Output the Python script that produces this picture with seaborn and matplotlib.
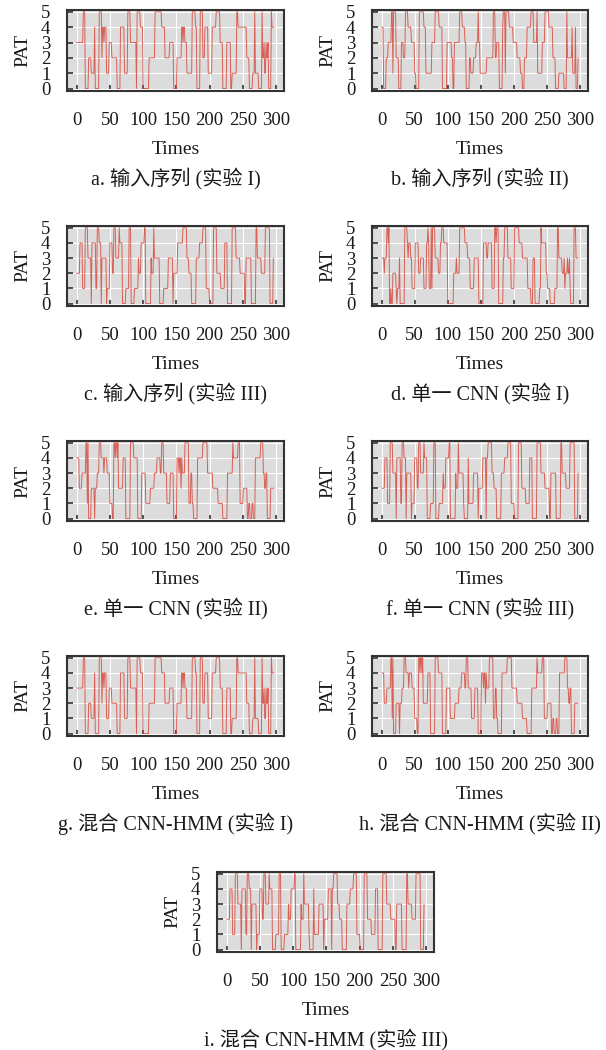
import numpy as np
import seaborn as sns
import matplotlib.pyplot as plt

# run-length encoded PAT sequences (level, number of time steps)
a_levels = [3, 5, 0, 2, 1, 4, 0, 5, 2, 4, 3, 4, 1, 3, 2, 0, 4, 1, 5, 3, 0, 5, 4, 0, 2, 5, 4, 2, 3, 0,
            2, 4, 3, 4, 3, 1, 5, 4, 0, 5, 2, 4, 1, 4, 5, 3, 0, 3, 0, 1, 5, 4, 2, 0, 1, 5, 1, 0, 5, 2,
            3, 1, 3, 2, 3, 0, 5, 4]
a_runs = [10, 3, 5, 4, 5, 1, 6, 4, 1, 2, 1, 3, 4, 4, 8, 5, 6, 5, 4, 9, 1, 5, 4, 9, 9, 10, 5, 7, 6, 5,
          7, 2, 1, 2, 3, 8, 5, 2, 5, 4, 3, 5, 6, 6, 6, 4, 6, 6, 2, 7, 2, 13, 4, 5, 3, 1, 5, 5, 1, 2,
          1, 2, 1, 2, 1, 4, 1, 4]

b_levels = [4, 0, 2, 3, 5, 1, 5, 2, 0, 3, 2, 5, 4, 3, 1, 0, 5, 4, 1, 3, 5, 4, 0, 3, 2, 0, 3, 5, 4, 3,
            0, 2, 1, 2, 3, 5, 3, 1, 2, 5, 2, 3, 0, 4, 5, 1, 5, 4, 3, 2, 1, 0, 2, 4, 5, 3, 5, 1, 3, 5,
            4, 2, 0, 1, 0, 5, 2, 4, 1, 4, 0, 2]
b_runs = [3, 4, 3, 5, 2, 1, 4, 4, 4, 3, 3, 4, 5, 5, 2, 5, 7, 3, 9, 5, 6, 5, 7, 7, 2, 2, 8, 4, 4, 2,
          5, 2, 4, 4, 3, 1, 2, 10, 10, 3, 2, 4, 5, 1, 3, 1, 5, 6, 6, 5, 3, 3, 4, 6, 4, 5, 1, 7, 4, 6,
          6, 4, 5, 8, 4, 1, 7, 1, 4, 1, 3, 1]

c_levels = [2, 4, 1, 5, 3, 0, 4, 1, 5, 4, 0, 3, 0, 1, 4, 2, 5, 3, 5, 4, 0, 1, 5, 0, 1, 3, 2, 4, 5, 0,
            3, 2, 5, 3, 0, 1, 3, 0, 2, 4, 5, 3, 2, 0, 3, 4, 5, 1, 0, 5, 2, 1, 4, 0, 5, 3, 2, 0, 3, 0,
            5, 3, 2, 5, 0, 3]
c_runs = [5, 4, 4, 4, 5, 1, 6, 2, 3, 3, 1, 7, 1, 4, 4, 2, 3, 5, 1, 4, 5, 5, 3, 5, 6, 1, 3, 5, 2, 8,
          1, 3, 1, 8, 6, 7, 7, 1, 6, 8, 6, 3, 4, 7, 5, 5, 5, 5, 6, 5, 6, 6, 4, 7, 6, 6, 7, 2, 8, 7,
          2, 6, 6, 7, 5, 1]

d_levels = [3, 2, 3, 5, 4, 5, 0, 1, 0, 2, 1, 0, 1, 3, 0, 5, 4, 3, 4, 3, 1, 4, 2, 3, 1, 4, 5, 4, 1, 5,
            1, 5, 3, 2, 4, 5, 4, 0, 2, 3, 2, 5, 4, 3, 1, 3, 0, 4, 3, 4, 1, 5, 4, 5, 0, 3, 5, 3, 1, 5,
            4, 3, 1, 0, 3, 0, 1, 5, 4, 2, 1, 0, 1, 5, 3, 2, 3, 1, 2, 3, 2, 3, 1, 0, 5, 3]
d_runs = [4, 1, 3, 2, 1, 1, 2, 1, 2, 5, 1, 1, 3, 1, 7, 4, 1, 1, 3, 2, 5, 5, 3, 5, 4, 2, 1, 1, 3, 1,
          1, 4, 5, 3, 2, 3, 6, 9, 4, 1, 4, 8, 4, 4, 6, 7, 7, 5, 2, 6, 4, 2, 1, 3, 7, 2, 5, 5, 5, 7,
          5, 8, 5, 3, 3, 7, 2, 1, 7, 2, 4, 7, 4, 2, 5, 3, 1, 1, 3, 1, 2, 1, 1, 5, 3, 4]

e_levels = [4, 2, 3, 5, 1, 5, 0, 2, 0, 2, 3, 5, 4, 3, 4, 3, 1, 0, 5, 4, 5, 4, 5, 2, 4, 0, 5, 4, 0, 3,
            1, 2, 3, 4, 3, 5, 3, 1, 3, 0, 4, 3, 4, 2, 4, 3, 5, 1, 3, 1, 0, 4, 5, 3, 2, 1, 0, 3, 5, 4,
            5, 1, 2, 0, 1, 0, 1, 0, 4, 5, 3, 2, 3, 0, 2]
e_runs = [4, 4, 6, 2, 1, 1, 4, 5, 1, 3, 3, 3, 4, 1, 4, 4, 4, 2, 2, 1, 2, 1, 1, 7, 4, 7, 5, 6, 6, 6,
          7, 6, 4, 5, 2, 3, 5, 5, 5, 5, 3, 1, 2, 1, 1, 4, 6, 3, 2, 2, 6, 8, 7, 8, 8, 7, 7, 8, 1, 7,
          3, 5, 6, 2, 2, 3, 2, 3, 8, 4, 2, 2, 2, 5, 6]

f_levels = [2, 4, 1, 5, 3, 0, 4, 1, 5, 4, 0, 3, 0, 1, 4, 2, 5, 3, 5, 4, 0, 1, 5, 0, 1, 3, 2, 4, 5, 0,
            3, 2, 5, 3, 1, 0, 4, 1, 3, 0, 2, 4, 0, 4, 5, 3, 2, 0, 3, 4, 5, 1, 0, 5, 2, 1, 4, 0, 5, 3,
            2, 0, 3, 0, 5, 3, 2, 5, 0, 3]
f_runs = [5, 4, 4, 4, 5, 1, 6, 2, 3, 3, 1, 7, 1, 4, 4, 2, 3, 5, 1, 4, 5, 5, 3, 5, 6, 1, 3, 5, 2, 8,
          1, 3, 1, 7, 1, 6, 1, 7, 7, 1, 6, 5, 1, 2, 6, 3, 4, 7, 5, 5, 5, 5, 6, 5, 6, 6, 4, 7, 6, 6,
          7, 2, 8, 7, 2, 6, 6, 7, 5, 1]

# hybrid CNN-HMM outputs coincide with the sequences above in the figure
g_levels, g_runs = a_levels, a_runs
h_levels, h_runs = e_levels, e_runs
i_levels, i_runs = f_levels, f_runs

captions = ['a. 输入序列 (实验 I)', 'b. 输入序列 (实验 II)', 'c. 输入序列 (实验 III)',
            'd. 单一 CNN (实验 I)', 'e. 单一 CNN (实验 II)', 'f. 单一 CNN (实验 III)',
            'g. 混合 CNN-HMM (实验 I)', 'h. 混合 CNN-HMM (实验 II)', 'i. 混合 CNN-HMM (实验 III)']
series = [(a_levels, a_runs), (b_levels, b_runs), (c_levels, c_runs),
          (d_levels, d_runs), (e_levels, e_runs), (f_levels, f_runs),
          (g_levels, g_runs), (h_levels, h_runs), (i_levels, i_runs)]

# panel boxes in pixels: left, top, right, bottom
boxes = [(67, 10, 284, 91), (372, 10, 588, 91),
         (67, 226, 284, 306), (372, 226, 588, 306),
         (67, 441, 284, 521), (372, 441, 588, 521),
         (67, 656, 284, 736), (372, 656, 588, 736),
         (217, 872, 434, 952)]

sns.set_theme(style='darkgrid', rc={
    'axes.facecolor': '#dcdcdc',
    'grid.color': 'white',
    'grid.linewidth': 0.8,
    'axes.edgecolor': '#333333',
    'axes.linewidth': 1.5,
})
plt.rcParams['font.family'] = ['Liberation Serif', 'Noto Sans CJK SC']
plt.rcParams['axes.unicode_minus'] = False

TICK_FS = 13.5
LABEL_FS = 14
CAP_FS = 14.5
W, H = 606, 1050
fig = plt.figure(figsize=(W / 100, H / 100), dpi=100)

for (levels, runs), cap, (l, t, r, b) in zip(series, captions, boxes):
    ax = fig.add_axes([l / W, 1 - b / H, (r - l) / W, (b - t) / H])
    vals = np.repeat(levels, runs)
    times = np.arange(len(vals))
    sns.lineplot(x=times, y=vals, ax=ax, color='#d8493c', linewidth=0.7, alpha=0.85)
    ax.set_xlim(-14.6, 312)
    ax.set_ylim(-0.16, 5.12)
    ax.set_xticks([0, 50, 100, 150, 200, 250, 300])
    ax.set_yticks([0, 1, 2, 3, 4, 5])
    ax.tick_params(direction='in', length=4, width=1.2, color='#333333',
                   labelsize=TICK_FS, labelcolor='#1a1a1a', left=True, bottom=True)
    ax.tick_params(axis='x', pad=15)
    ax.tick_params(axis='y', pad=12)
    ax.set_xlabel('Times', fontsize=LABEL_FS, labelpad=9, color='#1a1a1a')
    ax.set_ylabel('PAT', fontsize=LABEL_FS, labelpad=7, color='#1a1a1a')
    for sp in ax.spines.values():
        sp.set_visible(True)
        sp.set_color('#333333')
        sp.set_linewidth(1.5)
    ax.annotate(cap, xy=(0.5, 0), xycoords='axes fraction',
                xytext=(0, -88 * 0.72), textcoords='offset points',
                ha='center', va='center', fontsize=CAP_FS, color='#1a1a1a')

fig.savefig('out.png', dpi=100)
